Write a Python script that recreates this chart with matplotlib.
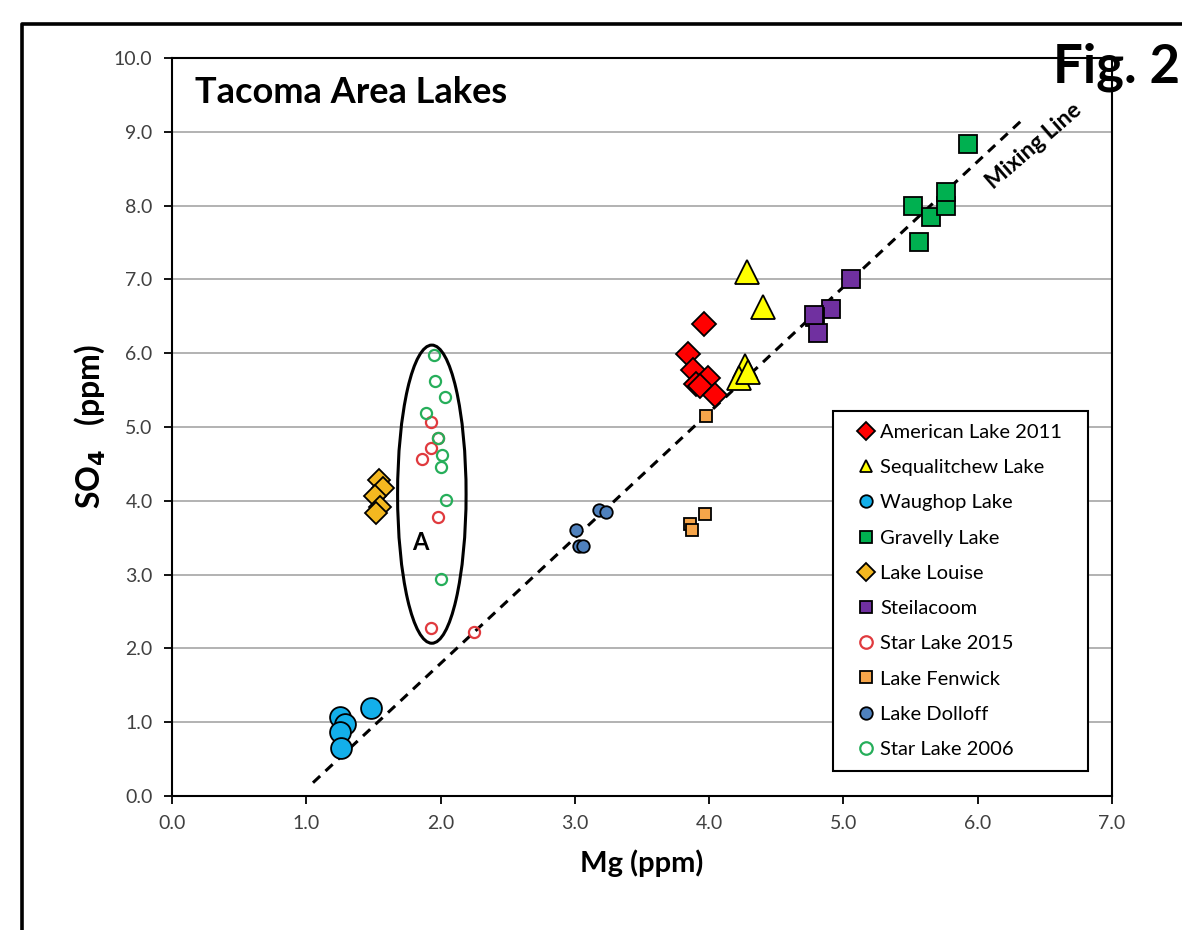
import matplotlib
matplotlib.use('Agg')
import matplotlib.pyplot as plt
from matplotlib.patches import Ellipse
from matplotlib.lines import Line2D

plt.rcParams['font.family'] = ['Lato', 'DejaVu Sans']

# values (Mg ppm, SO4 ppm)
american_mg = [3.96, 3.84, 3.88, 3.99, 3.90, 3.93, 4.04]
american_so4 = [6.39, 5.99, 5.77, 5.66, 5.58, 5.55, 5.44]

sequal_mg = [4.28, 4.40, 4.27, 4.22, 4.29]
sequal_so4 = [7.10, 6.63, 5.82, 5.66, 5.74]

waughop_mg = [1.25, 1.29, 1.25, 1.26, 1.48]
waughop_so4 = [1.07, 0.97, 0.87, 0.65, 1.19]

gravelly_mg = [5.93, 5.52, 5.65, 5.76, 5.76, 5.56]
gravelly_so4 = [8.83, 7.99, 7.84, 7.99, 8.18, 7.51]

louise_mg = [1.54, 1.57, 1.51, 1.55, 1.52]
louise_so4 = [4.28, 4.17, 4.06, 3.92, 3.83]

steil_mg = [5.06, 4.91, 4.79, 4.81, 4.78]
steil_so4 = [7.00, 6.60, 6.49, 6.27, 6.52]

star15_mg = [1.93, 1.98, 1.93, 1.86, 1.98, 1.93, 2.25]
star15_so4 = [5.07, 4.85, 4.72, 4.56, 3.78, 2.27, 2.22]

fenwick_mg = [3.98, 3.97, 3.86, 3.87]
fenwick_so4 = [5.15, 3.82, 3.68, 3.60]

dolloff_mg = [3.01, 3.03, 3.06, 3.18, 3.23]
dolloff_so4 = [3.60, 3.39, 3.39, 3.87, 3.85]

star06_mg = [1.95, 1.96, 2.03, 1.89, 1.98, 2.01, 2.00, 2.04, 2.00]
star06_so4 = [5.98, 5.63, 5.40, 5.19, 4.85, 4.62, 4.46, 4.01, 2.94]

mixing_mg = [1.05, 6.33]
mixing_so4 = [0.18, 9.16]

x_ticks = [0, 1, 2, 3, 4, 5, 6, 7]
y_ticks = [0, 1, 2, 3, 4, 5, 6, 7, 8, 9, 10]

fig = plt.figure(figsize=(11.82, 9.30), dpi=100)
ax = fig.add_axes([0.1455, 0.1441, 0.7953, 0.7935])

ax.plot(mixing_mg, mixing_so4, color='black', lw=2.2, dashes=(3.2, 2.4), zorder=2)

series = [
    (american_mg, american_so4, 'American Lake 2011', dict(marker='D', ms=12, mfc='#FF0000', mec='black')),
    (sequal_mg, sequal_so4, 'Sequalitchew Lake', dict(marker='^', ms=17, mfc='#FFFF00', mec='black')),
    (waughop_mg, waughop_so4, 'Waughop Lake', dict(marker='o', ms=15, mfc='#13AFEA', mec='black')),
    (gravelly_mg, gravelly_so4, 'Gravelly Lake', dict(marker='s', ms=13, mfc='#00B050', mec='black')),
    (louise_mg, louise_so4, 'Lake Louise', dict(marker='D', ms=11, mfc='#F4B820', mec='black')),
    (steil_mg, steil_so4, 'Steilacoom', dict(marker='s', ms=13, mfc='#7030A0', mec='black')),
    (star15_mg, star15_so4, 'Star Lake 2015', dict(marker='o', ms=8, mfc='none', mec='#E03A3E', mew=1.6)),
    (fenwick_mg, fenwick_so4, 'Lake Fenwick', dict(marker='s', ms=9, mfc='#F6A54A', mec='black')),
    (dolloff_mg, dolloff_so4, 'Lake Dolloff', dict(marker='o', ms=9, mfc='#4F81BD', mec='black')),
    (star06_mg, star06_so4, 'Star Lake 2006', dict(marker='o', ms=8, mfc='none', mec='#26AE5A', mew=1.6)),
]
for xs, ys, name, style in series:
    ax.plot(xs, ys, ls='none', label=name, mew=style.pop('mew', 1.3), zorder=3, **style)

ax.add_patch(Ellipse((1.935, 4.09), 0.51, 4.04, fill=False, ec='black', lw=2.2, zorder=4))
ax.text(1.85, 3.43, 'A', fontsize=17, fontweight='bold', ha='center', va='center')
ax.text(0.17, 9.39, 'Tacoma Area Lakes', fontsize=26, fontweight='bold', ha='left', va='baseline')
ax.text(6.42, 8.81, 'Mixing Line', fontsize=16.5, fontweight='bold', rotation=41,
        ha='center', va='center', rotation_mode='anchor')

ax.set_xlim(0, 7)
ax.set_ylim(0, 10)
ax.set_xticks(x_ticks)
ax.set_yticks(y_ticks)
ax.xaxis.set_major_formatter('{x:.1f}')
ax.yaxis.set_major_formatter('{x:.1f}')
ax.tick_params(direction='out', length=6, width=1.3, labelsize=14, labelcolor='#404040', pad=8)
ax.yaxis.grid(True, color='#A6A6A6', lw=1.2)
ax.set_axisbelow(True)
for sp in ax.spines.values():
    sp.set_linewidth(1.5)

ax.set_xlabel('Mg (ppm)', fontsize=21, fontweight='bold', labelpad=12)
ax.set_ylabel(r'SO$_\mathbf{4}$   (ppm)', fontsize=23, fontweight='bold', labelpad=5)

leg = ax.legend(loc='upper left', bbox_to_anchor=(0.703, 0.036, 0.271, 0.486), mode='expand',
                fontsize=14.5, frameon=True, fancybox=False, edgecolor='black', framealpha=1,
                handlelength=2.0, handletextpad=-0.3, labelspacing=0.9,
                borderpad=0.65, borderaxespad=0)
leg.get_frame().set_linewidth(1.5)
for h in leg.legend_handles:
    h.set_markersize(9)

# outer frame and figure number
fx = 22 / 1182
fy = 1 - 24 / 930
fig.add_artist(Line2D([fx, fx, 1.0], [0.0, fy, fy], transform=fig.transFigure, color='black', lw=2.6))
fig.text(0.998, 1 - 83 / 930, 'Fig. 2', fontsize=38, fontweight='bold', ha='right', va='baseline')

fig.savefig('out.png', dpi=100)
